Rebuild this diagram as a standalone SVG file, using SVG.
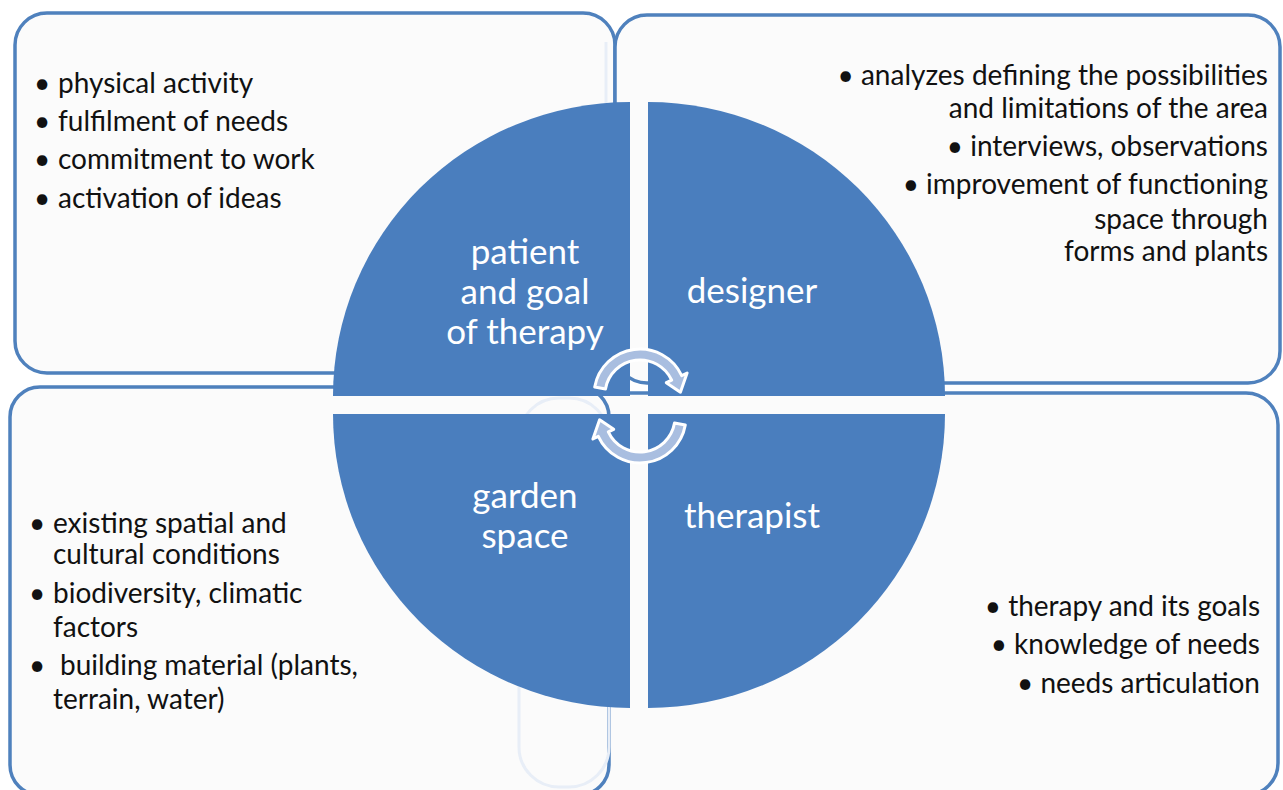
<svg xmlns="http://www.w3.org/2000/svg" width="1283" height="790" viewBox="0 0 1283 790">
  <style>
    .box { fill: #fbfbfb; stroke: #4f81bd; stroke-width: 3.5; }
    .ghost { fill: none; stroke: #e8eef7; stroke-width: 3; }
    .quad { fill: #4a7ebe; }
    .arrow { fill: #a9bee0; stroke: #ffffff; stroke-width: 3; stroke-linejoin: round; }
    .list { font-family: Lato, "Liberation Sans", sans-serif; font-size: 28px; fill: #111111; }
    .end { text-anchor: end; }
    .label { font-family: Lato, "Liberation Sans", sans-serif; font-size: 35px; fill: #ffffff; text-anchor: middle; }
  </style>
  <defs>
    <path id="cycleArrow" d="M594.7,387 A46,46 0 0 1 681.7,375.6 L687.1,373 L680.4,392.2 L666.3,382.7 L671.7,380.2 A35,35 0 0 0 605.5,388.9 Z"/>
  </defs>

  <rect width="1283" height="790" fill="#ffffff"/>

  <!-- outer panels -->
  <g id="panel-patient">
    <rect class="box" x="15" y="13" width="600" height="360" rx="32"/>
    <line class="ghost" x1="606" y1="42" x2="606" y2="104"/>
  </g>
  <g id="panel-designer">
    <rect class="box" x="615" y="15" width="665" height="368" rx="32"/>
  </g>
  <g id="panel-therapist">
    <rect class="box" x="560" y="393" width="718" height="402" rx="32"/>
  </g>
  <g id="panel-garden">
    <rect class="box" x="10" y="387" width="599" height="408" rx="30"/>
    <rect class="ghost" x="519" y="398" width="90" height="389" rx="40"/>
  </g>

  <!-- quartered circle -->
  <g id="node-patient">
    <path class="quad" d="M630,396 L630,102 A297,294 0 0 0 333,396 Z"/>
    <text class="label" x="525" y="264">patient</text>
    <text class="label" x="525" y="304">and goal</text>
    <text class="label" x="525" y="344">of therapy</text>
  </g>
  <g id="node-designer">
    <path class="quad" d="M648,396 L648,102 A297,294 0 0 1 945,396 Z"/>
    <text class="label" x="752" y="303">designer</text>
  </g>
  <g id="node-garden">
    <path class="quad" d="M630,414 L630,708 A297,294 0 0 1 333,414 Z"/>
    <text class="label" x="525" y="508">garden</text>
    <text class="label" x="525" y="548">space</text>
  </g>
  <g id="node-therapist">
    <path class="quad" d="M648,414 L648,708 A297,294 0 0 0 945,414 Z"/>
    <text class="label" x="752" y="528">therapist</text>
  </g>

  <!-- cycle connectors -->
  <g id="connectors">
    <use href="#cycleArrow" class="arrow"/>
    <use href="#cycleArrow" class="arrow" transform="rotate(180 640 406)"/>
  </g>

  <!-- panel texts -->
  <g id="text-patient" class="list">
    <text x="34" y="93">•<tspan x="58">physical activity</tspan></text>
    <text x="34" y="131">•<tspan x="58">fulfilment of needs</tspan></text>
    <text x="34" y="169">•<tspan x="58">commitment to work</tspan></text>
    <text x="34" y="208">•<tspan x="58">activation of ideas</tspan></text>
  </g>
  <g id="text-designer" class="list end">
    <text x="1268" y="85">• analyzes defining the possibilities</text>
    <text x="1268" y="118">and limitations of the area</text>
    <text x="1268" y="156">• interviews, observations</text>
    <text x="1268" y="194">• improvement of functioning</text>
    <text x="1268" y="229">space through</text>
    <text x="1268" y="261">forms and plants</text>
  </g>
  <g id="text-garden" class="list">
    <text x="29" y="533">•<tspan x="53">existing spatial and</tspan></text>
    <text x="53" y="564">cultural conditions</text>
    <text x="29" y="603">•<tspan x="53">biodiversity, climatic</tspan></text>
    <text x="53" y="637">factors</text>
    <text x="29" y="675">•<tspan x="60">building material (plants,</tspan></text>
    <text x="53" y="709">terrain, water)</text>
  </g>
  <g id="text-therapist" class="list end">
    <text x="1260" y="616">• therapy and its goals</text>
    <text x="1260" y="654">• knowledge of needs</text>
    <text x="1260" y="693">• needs articulation</text>
  </g>
</svg>
